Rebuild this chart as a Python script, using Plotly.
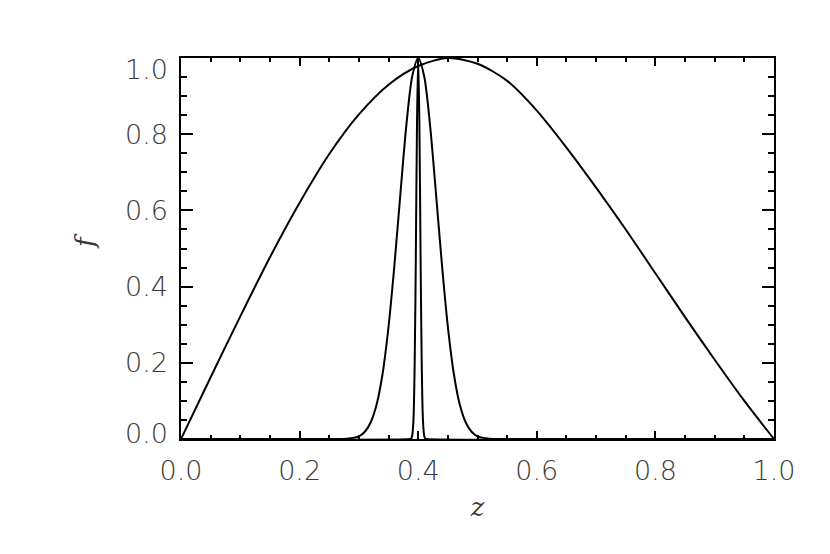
import plotly.graph_objects as go

# Broad curve
z_broad = [0.0, 0.05, 0.10, 0.15, 0.20, 0.25, 0.30, 0.35, 0.40, 0.45, 0.50,
           0.55, 0.60, 0.65, 0.70, 0.75, 0.80, 0.85, 0.90, 0.95, 1.0]
f_broad = [0.0, 0.162, 0.322, 0.477, 0.620, 0.748, 0.852, 0.930, 0.979, 1.0, 0.985,
           0.940, 0.862, 0.765, 0.660, 0.550, 0.435, 0.320, 0.208, 0.100, 0.0]

# Medium peak
z_mid = [0.0, 0.26, 0.28, 0.30, 0.31, 0.32, 0.33, 0.34, 0.35, 0.36, 0.37, 0.38, 0.39,
         0.40, 0.41, 0.42, 0.43, 0.44, 0.45, 0.46, 0.47, 0.48, 0.49, 0.50, 0.52, 0.54, 1.0]
f_mid = [0.0, 0.0, 0.001, 0.007, 0.019, 0.044, 0.091, 0.172, 0.295, 0.458, 0.644, 0.823, 0.953,
         1.0, 0.953, 0.823, 0.644, 0.458, 0.295, 0.172, 0.091, 0.044, 0.019, 0.007, 0.001, 0.0, 0.0]

# Narrow spike
z_narrow = [0.0, 0.386, 0.388, 0.390, 0.392, 0.394, 0.396, 0.398, 0.400,
            0.402, 0.404, 0.406, 0.408, 0.410, 0.412, 0.414, 1.0]
f_narrow = [0.0, 0.0, 0.001, 0.01, 0.05, 0.19, 0.48, 0.83, 1.0,
            0.83, 0.48, 0.19, 0.05, 0.01, 0.001, 0.0, 0.0]

x_ticks = [0.0, 0.2, 0.4, 0.6, 0.8, 1.0]
x_ticktext = ["0.0", "0.2", "0.4", "0.6", "0.8", "1.0"]
y_ticks = [0.0, 0.2, 0.4, 0.6, 0.8, 1.0]
y_ticktext = ["0.0", "0.2", "0.4", "0.6", "0.8", "1.0"]
x_title = "<i>z</i>"
y_title = "<i>f</i>"

# vertical nudges of y tick labels (px), as in the original rendering
y_label_shift = {0.0: 6, 1.0: -11}

fig = go.Figure()
for zz, ff in [(z_broad, f_broad), (z_mid, f_mid), (z_narrow, f_narrow)]:
    fig.add_trace(go.Scatter(x=zz, y=ff, mode="lines",
                             line=dict(color="black", width=2, shape="spline", smoothing=0.8),
                             showlegend=False, hoverinfo="skip"))

tickfont = dict(family="DejaVu Sans", size=27, color="#3a3a3a", weight=200)
titlefont = dict(family="DejaVu Serif", size=26, color="#3a3a3a")

for v, t in zip(y_ticks, y_ticktext):
    fig.add_annotation(x=0, xref="paper", y=v, yref="y", text=t, showarrow=False,
                       xanchor="right", yanchor="middle", xshift=-11,
                       yshift=y_label_shift.get(v, 0), font=tickfont)

fig.add_annotation(x=0, xref="paper", y=0.52, yref="paper", text=y_title, showarrow=False,
                   xanchor="center", yanchor="middle", xshift=-96, textangle=-90,
                   font=titlefont)

fig.update_layout(
    width=830, height=554,
    margin=dict(l=173, r=64, t=50, b=123, autoexpand=False),
    paper_bgcolor="white", plot_bgcolor="white",
    xaxis=dict(range=[0, 1], tickvals=x_ticks, ticktext=x_ticktext,
               showgrid=False, zeroline=False,
               showline=True, linecolor="black", linewidth=2, mirror="ticks",
               ticks="inside", ticklen=8, tickwidth=1.5, tickcolor="black",
               minor=dict(dtick=0.05, ticks="inside", ticklen=4, tickwidth=1.5,
                          tickcolor="black", showgrid=False),
               tickfont=tickfont, ticklabelstandoff=7,
               title=dict(text=x_title, font=titlefont, standoff=12)),
    yaxis=dict(range=[0, 1], tickvals=y_ticks,
               showgrid=False, zeroline=False, showticklabels=False,
               showline=True, linecolor="black", linewidth=2, mirror="ticks",
               ticks="inside", ticklen=12, tickwidth=1.5, tickcolor="black",
               minor=dict(dtick=0.05, ticks="inside", ticklen=6, tickwidth=1.5,
                          tickcolor="black", showgrid=False)),
)

fig.write_html("out.html")
